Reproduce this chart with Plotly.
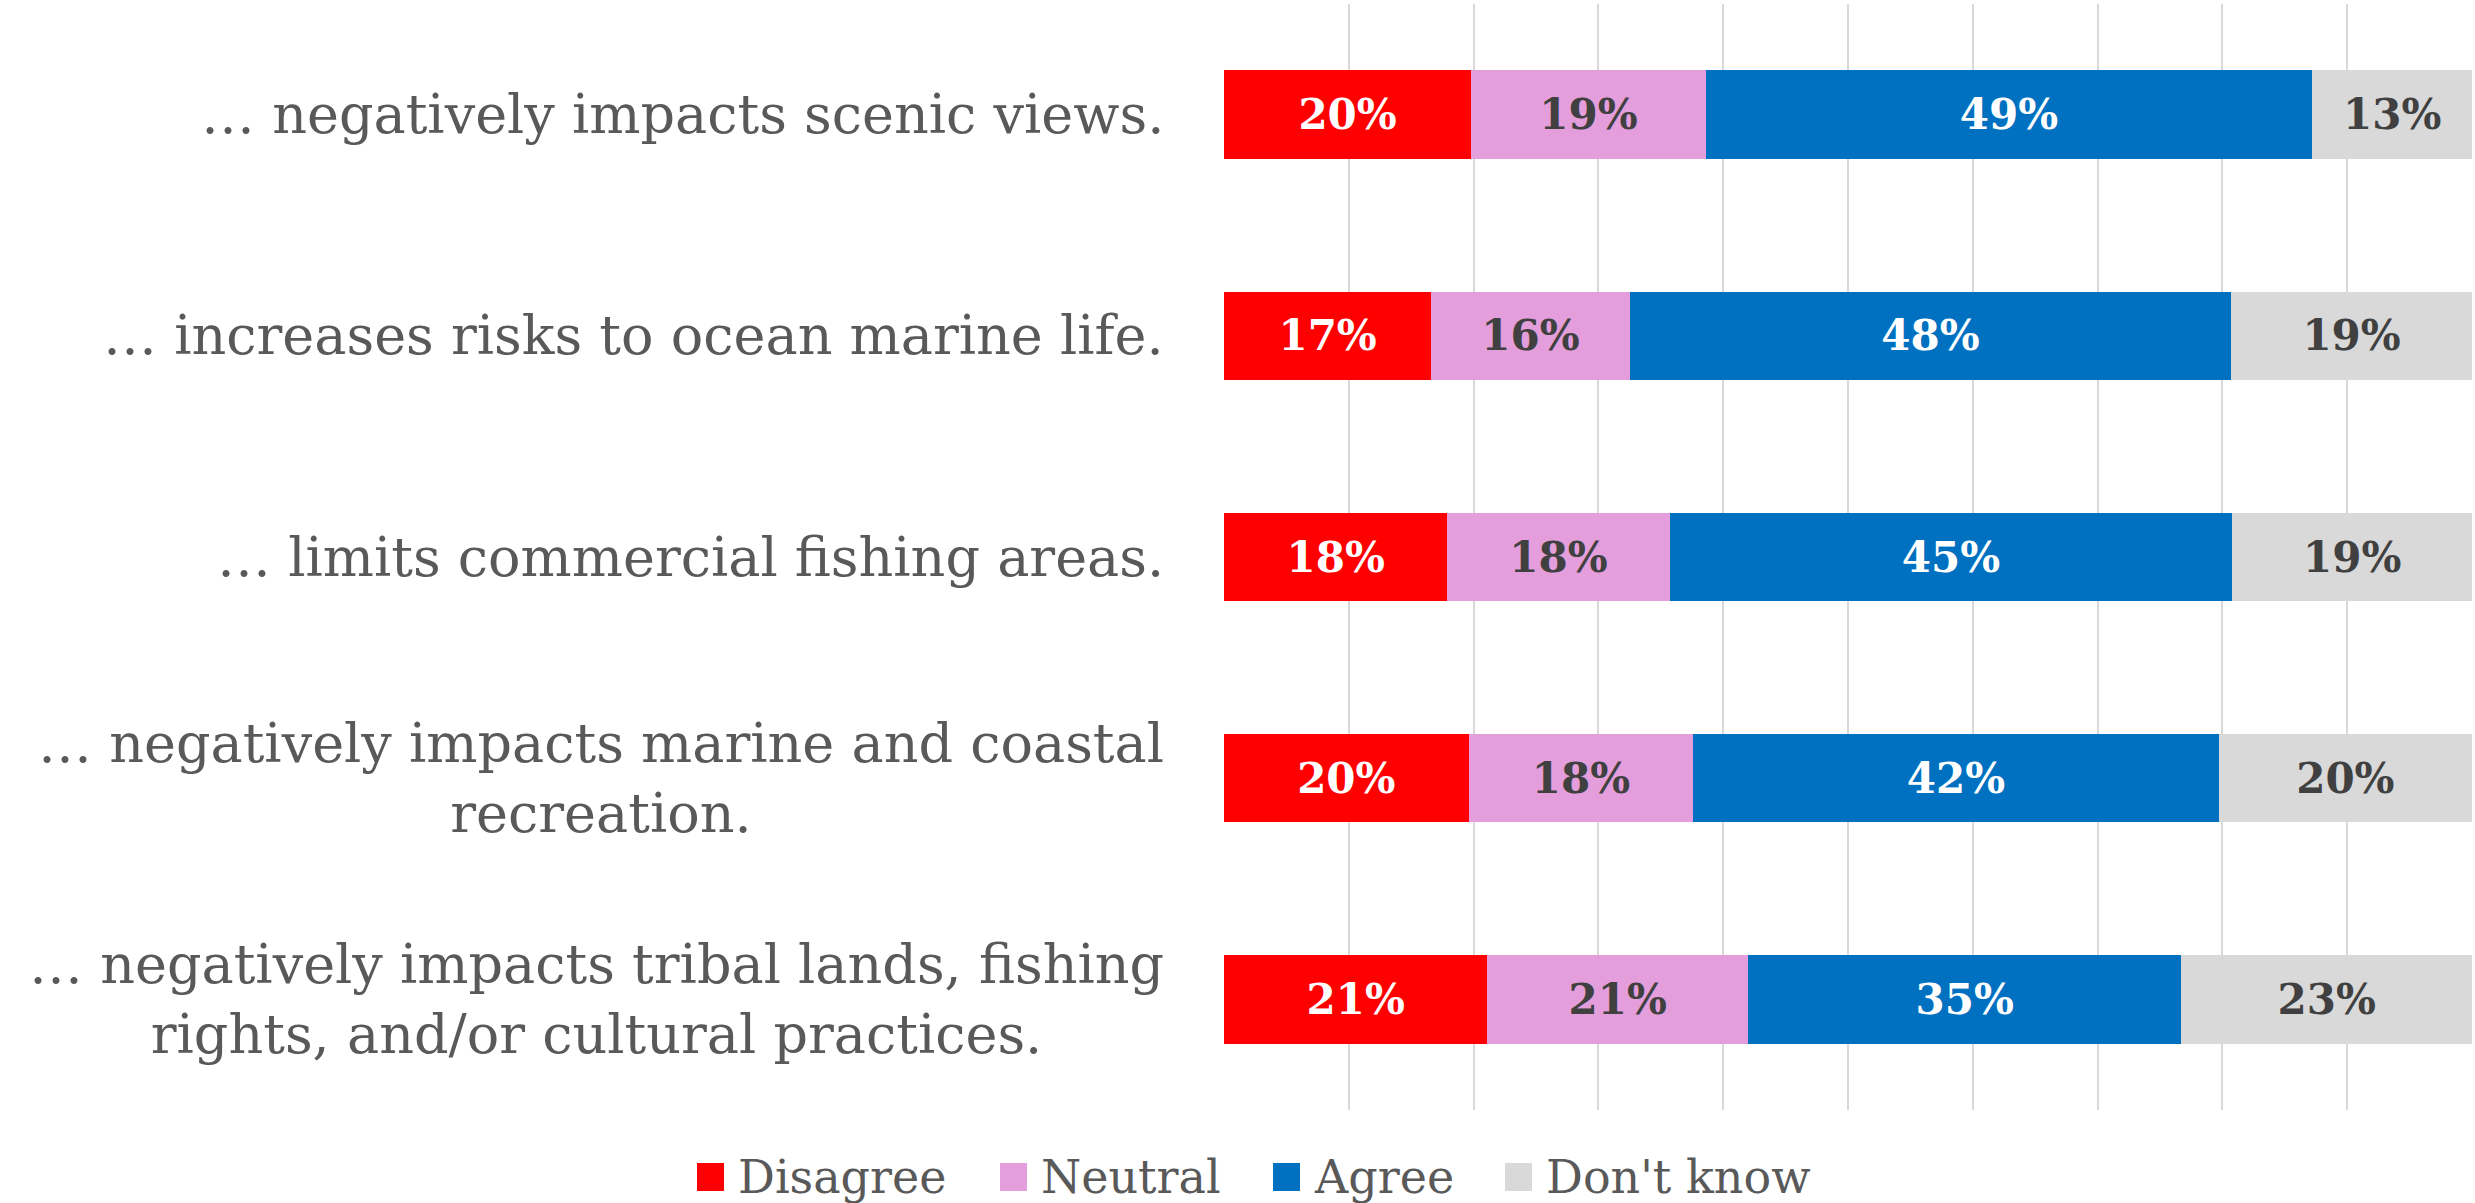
import plotly.graph_objects as go

categories = [
    "… negatively impacts scenic views.",
    "… increases risks to ocean marine life.",
    "… limits commercial fishing areas.",
    "… negatively impacts marine and coastal<br>recreation.",
    "… negatively impacts tribal lands, fishing<br>rights, and/or cultural practices.",
]
disagree = [19.8, 16.6, 17.9, 19.6, 21.1]
neutral = [18.8, 15.9, 17.8, 18.0, 20.9]
agree = [48.6, 48.2, 45.1, 42.1, 34.7]
dont_know = [12.8, 19.3, 19.2, 20.3, 23.3]
series_names = ["Disagree", "Neutral", "Agree", "Don't know"]

colors = ["#FF0000", "#E39EDB", "#0070C0", "#D9D9D9"]
text_colors = ["#FFFFFF", "#404040", "#FFFFFF", "#404040"]

W, H = 2475, 1203
ML, MR, MT, MB = 1224, 3, 4, 93
PW, PH = W - ML - MR, H - MT - MB

FONT = "DejaVu Serif"
fig = go.Figure()
for name, vals, color, tcolor in zip(series_names, [disagree, neutral, agree, dont_know], colors, text_colors):
    fig.add_trace(go.Bar(
        y=categories, x=vals, name=name, orientation="h",
        marker=dict(color=color, line=dict(width=0)),
        texttemplate="<b>%{x:.0f}%</b>", textposition="inside",
        insidetextanchor="middle", constraintext="none",
        textfont=dict(family=FONT, size=42, color=tcolor),
        hoverinfo="skip", showlegend=False,
    ))

def px2x(px):
    return (px - ML) / PW
def py2y(py):
    return (H - MB - py) / PH

annotations = []
# category labels (multi-line centred, right edge next to the plot)
for cat in categories:
    annotations.append(dict(text=cat, xref="paper", yref="y", x=px2x(1166), y=cat,
                            xanchor="right", yanchor="middle", align="center",
                            showarrow=False,
                            font=dict(family=FONT, size=54, color="#595959")))

# custom legend (large square swatches like the original)
legend_left_px = [697, 1000, 1273, 1505]
sw = 27
cy = 1177
shapes = []
for name, color, lx in zip(series_names, colors, legend_left_px):
    shapes.append(dict(type="rect", xref="paper", yref="paper",
                       x0=px2x(lx), x1=px2x(lx + sw),
                       y0=py2y(cy + 14), y1=py2y(cy - 14),
                       fillcolor=color, line=dict(width=0), layer="above"))
    annotations.append(dict(text=name, xref="paper", yref="paper",
                            x=px2x(lx + sw + 12), y=py2y(cy), xanchor="left",
                            yanchor="middle", showarrow=False,
                            font=dict(family=FONT, size=46, color="#595959")))

fig.update_layout(
    barmode="stack", bargap=0.6,
    width=W, height=H,
    margin=dict(l=ML, r=MR, t=MT, b=MB, autoexpand=False),
    paper_bgcolor="white", plot_bgcolor="white",
    font=dict(family=FONT, color="#595959"),
    showlegend=False,
    shapes=shapes, annotations=annotations,
)
fig.update_xaxes(range=[0, 100], dtick=10, showticklabels=False,
                 showgrid=True, gridcolor="#D9D9D9", gridwidth=2,
                 zeroline=False, showline=False, fixedrange=True)
fig.update_yaxes(autorange="reversed", showgrid=False, showline=False,
                 ticks="", showticklabels=False, automargin=False)

fig.write_html("out.html", config={"displayModeBar": False},
               post_script="document.body.style.margin='0';document.body.style.overflow='hidden';")
